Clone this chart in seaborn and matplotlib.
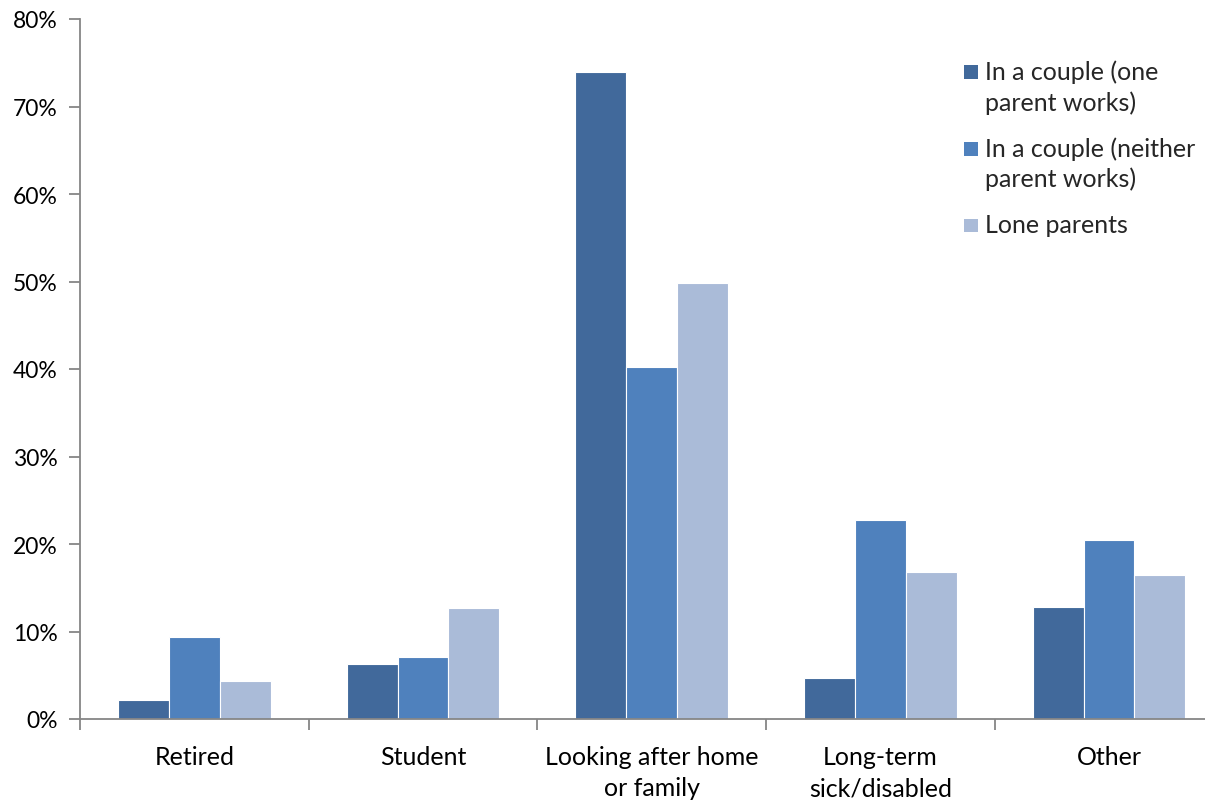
import matplotlib
matplotlib.use("Agg")
import matplotlib.pyplot as plt
import seaborn as sns
import pandas as pd
from matplotlib.ticker import FixedLocator, PercentFormatter

categories = ["Retired", "Student", "Looking after home\nor family",
              "Long-term\nsick/disabled", "Other"]
series = ["In a couple (one\nparent works)",
          "In a couple (neither\nparent works)",
          "Lone parents"]
one_parent_works = [2.2, 6.3, 73.9, 4.7, 12.8]
neither_works = [9.4, 7.1, 40.2, 22.7, 20.5]
lone_parents = [4.3, 12.7, 49.8, 16.8, 16.5]
colors = ["#41699B", "#4F81BD", "#AABBD8"]

rows = []
for name, vals in zip(series, [one_parent_works, neither_works, lone_parents]):
    for cat, v in zip(categories, vals):
        rows.append({"category": cat, "group": name, "value": v})
df = pd.DataFrame(rows)

sns.set_theme(style="white")
plt.rcParams["font.family"] = ["Lato", "DejaVu Sans"]

FS = 18
fig = plt.figure(figsize=(12.05, 8.03), dpi=100)
ax = fig.add_axes([80 / 1205, 83 / 803, 1125 / 1205, 700 / 803])

sns.barplot(data=df, x="category", y="value", hue="group", order=categories,
            hue_order=series, palette=colors, width=0.667, gap=0,
            edgecolor="white", linewidth=0.8, saturation=1, ax=ax)

ax.set_ylim(0, 80)
ax.set_xlim(-0.5, 4.42)
ax.yaxis.set_major_locator(FixedLocator(range(0, 81, 10)))
ax.yaxis.set_major_formatter(PercentFormatter(decimals=0))
ax.set_xlabel("")
ax.set_ylabel("")

for side in ["top", "right"]:
    ax.spines[side].set_visible(False)
for side in ["left", "bottom"]:
    ax.spines[side].set_color("#868686")
    ax.spines[side].set_linewidth(1.3)

ax.tick_params(axis="y", direction="out", length=8, width=1.3, color="#868686",
               labelsize=16.5, labelcolor="black", pad=8, left=True)
ax.tick_params(axis="x", which="major", length=0, labelsize=FS,
               labelcolor="black", pad=18.5)
for lbl in ax.get_xticklabels():
    lbl.set_linespacing(1.45)
ax.set_xticks([i - 0.5 for i in range(5)], minor=True)
ax.tick_params(axis="x", which="minor", direction="out", length=8, width=1.3,
               color="#868686", bottom=True)

# legend: small squares aligned with the first line of each label
sq = 10.0  # square side, points
leg = ax.legend(loc="upper left", bbox_to_anchor=(884 / 1125, 0.942),
                frameon=False, fontsize=FS, handlelength=sq / FS,
                handleheight=1.2, handletextpad=5 / FS, labelspacing=0.9,
                borderpad=0, borderaxespad=0)
for t in leg.get_texts():
    t.set_linespacing(1.35)
for h in leg.legend_handles:
    h.set_edgecolor("none")
    y0, hgt = h.get_y(), h.get_height()
    h.set_y(y0 + (hgt - sq) / 2)
    h.set_height(sq)
for hp in leg._legend_handle_box.get_children():
    for row in hp.get_children():
        row.align = "top"

fig.savefig("out.png", dpi=100, facecolor="white")
